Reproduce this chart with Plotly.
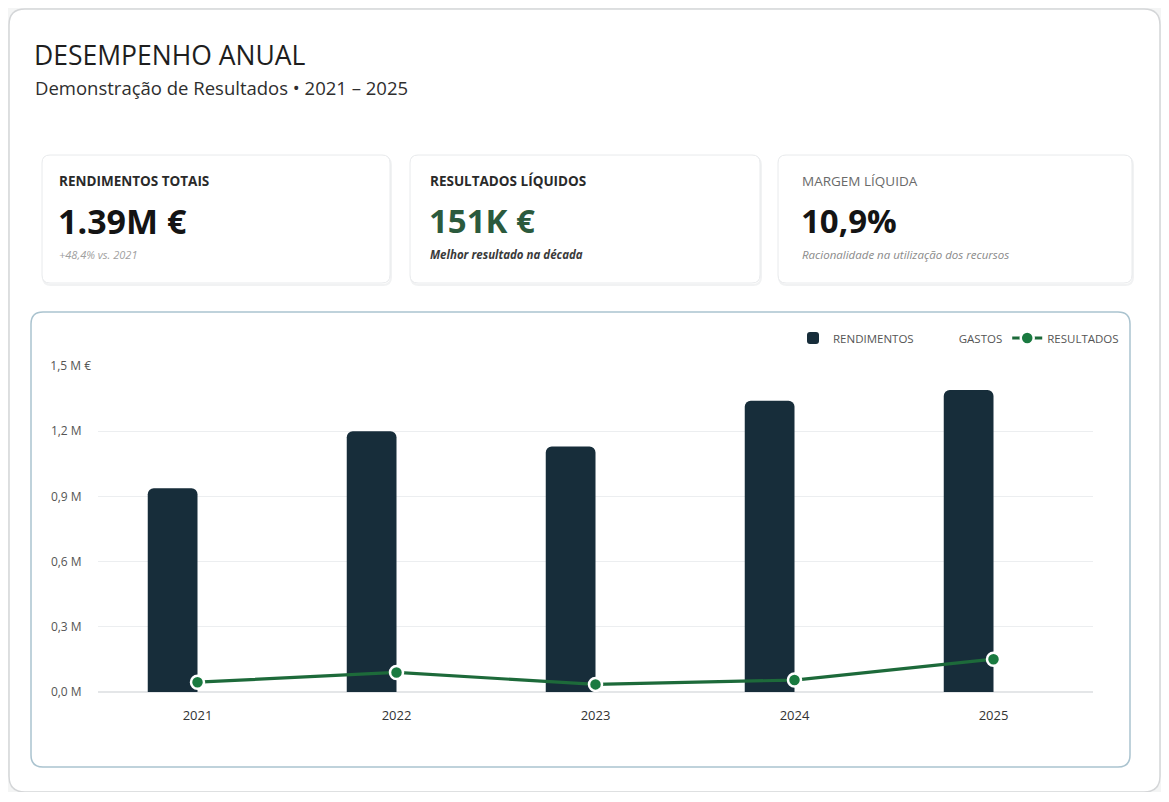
import plotly.graph_objects as go

# ---- data ----
anos = ["2021", "2022", "2023", "2024", "2025"]
rendimentos = [0.937, 1.20, 1.13, 1.34, 1.39]          # M €
resultados = [0.045, 0.090, 0.035, 0.055, 0.151]       # M €
gastos = [r - s for r, s in zip(rendimentos, resultados)]
ytick_vals = [0.0, 0.3, 0.6, 0.9, 1.2, 1.5]
ytick_text = ["0,0 M", "0,3 M", "0,6 M", "0,9 M", "1,2 M", "1,5 M €"]

kpi_labels = ["RENDIMENTOS TOTAIS", "RESULTADOS LÍQUIDOS", "MARGEM LÍQUIDA"]
kpi_values = ["1.39M €", "151K €", "10,9%"]
kpi_notes = ["+48,4% vs. 2021", "Melhor resultado na década", "Racionalidade na utilização dos recursos"]

# ---- layout geometry (reference-page pixels; the page body adds an 8px offset) ----
OFF = 8
W_FIG, H_FIG = 1169 - 2 * OFF, 802 - 2 * OFF - 2
L, R, T, B = 98, 1093, 366, 692        # plot area in page pixels
PW, PH = R - L, B - T

def px(x):
    return (x - L) / PW

def py(y):
    return (B - y) / PH

def rrect(x0, y0, x1, y1, r):
    pts = [
        f"M {px(x0 + r)} {py(y0)}",
        f"L {px(x1 - r)} {py(y0)}",
        f"Q {px(x1)} {py(y0)} {px(x1)} {py(y0 + r)}",
        f"L {px(x1)} {py(y1 - r)}",
        f"Q {px(x1)} {py(y1)} {px(x1 - r)} {py(y1)}",
        f"L {px(x0 + r)} {py(y1)}",
        f"Q {px(x0)} {py(y1)} {px(x0)} {py(y1 - r)}",
        f"L {px(x0)} {py(y0 + r)}",
        f"Q {px(x0)} {py(y0)} {px(x0 + r)} {py(y0)}",
        "Z",
    ]
    return " ".join(pts)

FONT = "Open Sans"
BAR_COLOR = "#172d3a"
LINE_COLOR = "#1d6a3a"
MARKER_COLOR = "#1a7a40"

fig = go.Figure()
fig.add_trace(go.Bar(
    x=anos, y=rendimentos, name="RENDIMENTOS", offsetgroup="r",
    marker=dict(color=BAR_COLOR, line=dict(width=0)),
))
fig.add_trace(go.Bar(
    x=anos, y=gastos, name="GASTOS", offsetgroup="g",
    marker=dict(color="rgba(255,255,255,0)", line=dict(width=0)),
))
fig.add_trace(go.Scatter(
    x=anos, y=resultados, name="RESULTADOS", mode="lines+markers",
    line=dict(color=LINE_COLOR, width=3.2),
    marker=dict(size=13, color=MARKER_COLOR, line=dict(color="white", width=2.5)),
))

shapes = []
# outer card
shapes.append(dict(type="path", xref="paper", yref="paper", path=rrect(9, 9, 1160, 792, 16),
                   line=dict(color="#d4d6d8", width=1.5), fillcolor="white", layer="below"))
# KPI cards
cards = [(42, 390), (410, 760), (778, 1132)]
text_x = [57, 428, 800]
for x0, x1 in cards:
    shapes.append(dict(type="path", xref="paper", yref="paper", path=rrect(x0 + 1, 157, x1 + 1, 285, 8),
                       line=dict(color="#f1f2f3", width=2), fillcolor="rgba(0,0,0,0)", layer="below"))
    shapes.append(dict(type="path", xref="paper", yref="paper", path=rrect(x0, 155, x1, 283, 8),
                       line=dict(color="#e8eaec", width=1), fillcolor="white", layer="below"))
# chart card
shapes.append(dict(type="path", xref="paper", yref="paper", path=rrect(31, 312, 1130, 767, 12),
                   line=dict(color="#aac3cf", width=1.5), fillcolor="rgba(0,0,0,0)", layer="below"))

def ann(text, x, y, size, color, xanchor="left"):
    return dict(text=text, x=px(x), y=py(y), xref="paper", yref="paper", showarrow=False,
                xanchor=xanchor, yanchor="middle", font=dict(family=FONT, size=size, color=color))

annotations = [
    ann("DESEMPENHO ANUAL", 32, 55, 26.5, "#1e1e1e"),
    ann("Demonstração de Resultados • 2021 – 2025", 33, 87, 18.5, "#2e2e2e"),
]

label_styles = [
    dict(bold=True, color="#2a2a2a"),
    dict(bold=True, color="#2a2a2a"),
    dict(bold=False, color="#6a6a6a"),
]
value_colors = ["#141414", "#2b5a3d", "#141414"]
value_sizes = [34, 33, 33]
note_styles = [
    dict(color="#a0a0a0", size=11, bold=False),
    dict(color="#3a3a3a", size=11.5, bold=True),
    dict(color="#8a8a8a", size=11.5, bold=False),
]
for i, (x0, x1) in enumerate(cards):
    tx = text_x[i]
    lab = kpi_labels[i]
    if label_styles[i]["bold"]:
        lab = f"<b>{lab}</b>"
    annotations.append(ann(lab, tx, 181, 13.5, label_styles[i]["color"]))
    annotations.append(ann(f"<b>{kpi_values[i]}</b>", tx - 1, 221, value_sizes[i], value_colors[i]))
    note = f"<i>{kpi_notes[i]}</i>"
    if note_styles[i]["bold"]:
        note = f"<b>{note}</b>"
    annotations.append(ann(note, tx, 254, note_styles[i]["size"], note_styles[i]["color"]))

pad = "\u00a0\u00a0\u00a0"
ytext = [t if t.endswith("€") else t + pad for t in ytick_text]

fig.update_layout(
    width=W_FIG, height=H_FIG,
    margin=dict(l=L - OFF, r=W_FIG - (R - OFF), t=T - OFF, b=H_FIG - (B - OFF), pad=0),
    paper_bgcolor="#f4f5f5", plot_bgcolor="rgba(0,0,0,0)",
    font=dict(family=FONT, color="#444"),
    barmode="group", bargap=0.5, bargroupgap=0.0, barcornerradius=6,
    shapes=shapes, annotations=annotations,
    showlegend=True,
    legend=dict(orientation="h", x=px(1124), xanchor="right", y=py(338), yanchor="middle",
                font=dict(family=FONT, size=11.5, color="#555"), bgcolor="rgba(0,0,0,0)",
                itemwidth=30, traceorder="normal"),
    xaxis=dict(showgrid=False, showline=False, zeroline=False, ticks="",
               tickfont=dict(family=FONT, size=13, color="#333"), ticklabelstandoff=14),
    yaxis=dict(range=[0, 1.5], tickvals=ytick_vals, ticktext=ytext, showgrid=True,
               gridcolor="#eceef0", gridwidth=1, zeroline=True, zerolinecolor="#e4e6e8",
               showline=False, ticks="", tickfont=dict(family=FONT, size=12, color="#555"),
               ticklabelstandoff=6),
)

fig.write_html("out.html")
